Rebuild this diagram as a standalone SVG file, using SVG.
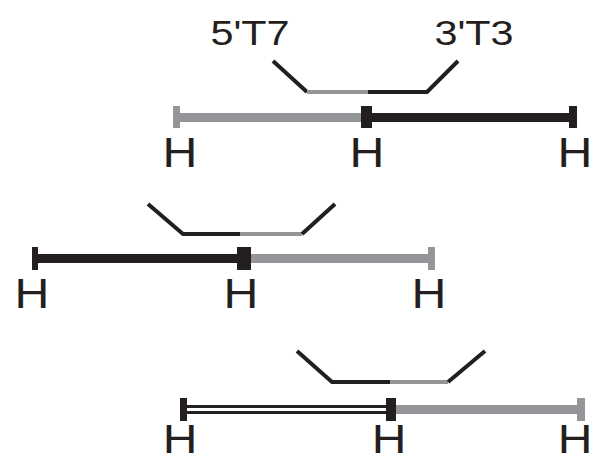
<svg xmlns="http://www.w3.org/2000/svg" width="596" height="462" viewBox="0 0 596 462">
  <style>
    .lbl { font-family: "Liberation Sans", Arial, sans-serif; fill: #231f20; text-anchor: middle; }
    .h { font-size: 42px; }
    .hb { font-size: 40px; }
    .p { font-size: 36px; }
    .bk { stroke: #231f20; fill: none; }
    .gr { stroke: #939598; fill: none; }
    .bar { stroke-width: 9; }
    .ad { stroke-width: 4; stroke-linecap: butt; stroke-linejoin: miter; }
    .tk { stroke: none; }
  </style>
  <rect width="596" height="462" fill="#ffffff"/>

  <g id="row1">
    <text class="lbl p" transform="translate(250,45) scale(1.15,1)">5'T7</text>
    <text class="lbl p" transform="translate(474,45) scale(1.15,1)">3'T3</text>
    <g id="row1-adapter">
      <polyline class="bk ad" points="273,61 307,92"/>
      <line class="gr ad" x1="307" y1="92" x2="368" y2="92"/>
      <polyline class="bk ad" points="368,92 427,92 458,61"/>
    </g>
    <g id="row1-fragments">
      <line class="gr bar" x1="178" y1="117.5" x2="364" y2="117.5"/>
      <line class="bk bar" x1="370" y1="117.5" x2="573" y2="117.5"/>
      <rect class="tk" x="173" y="106" width="7" height="22" fill="#939598"/>
      <rect class="tk" x="361" y="106" width="11" height="22" fill="#231f20"/>
      <rect class="tk" x="569" y="106" width="8" height="22" fill="#231f20"/>
    </g>
    <text class="lbl h" transform="translate(180,167) scale(1.15,1)">H</text>
    <text class="lbl h" transform="translate(367,167) scale(1.15,1)">H</text>
    <text class="lbl h" transform="translate(575,167) scale(1.15,1)">H</text>
  </g>

  <g id="row2">
    <g id="row2-adapter">
      <polyline class="bk ad" points="148,204 183,234 240,234"/>
      <polyline class="gr ad" points="240,234 302,234"/>
      <line class="bk ad" x1="302" y1="234" x2="335" y2="204"/>
    </g>
    <g id="row2-fragments">
      <line class="bk bar" x1="36" y1="258.5" x2="240" y2="258.5"/>
      <line class="gr bar" x1="248" y1="258.5" x2="430" y2="258.5"/>
      <rect class="tk" x="32" y="247" width="6" height="23" fill="#231f20"/>
      <rect class="tk" x="237" y="247" width="14" height="23" fill="#231f20"/>
      <rect class="tk" x="428" y="247" width="7" height="23" fill="#939598"/>
    </g>
    <text class="lbl h" transform="translate(32,308) scale(1.15,1)">H</text>
    <text class="lbl h" transform="translate(241,308) scale(1.15,1)">H</text>
    <text class="lbl h" transform="translate(429,308) scale(1.15,1)">H</text>
  </g>

  <g id="row3">
    <g id="row3-adapter">
      <polyline class="bk ad" points="297,351 332,382 390,382"/>
      <polyline class="gr ad" points="390,382 448,382"/>
      <line class="bk ad" x1="448" y1="382" x2="485" y2="351"/>
    </g>
    <g id="row3-fragments">
      <line class="bk bar" x1="185" y1="409.5" x2="388" y2="409.5"/>
      <line x1="186" y1="409.5" x2="387" y2="409.5" stroke="#ffffff" stroke-width="3"/>
      <line class="gr bar" x1="394" y1="409.5" x2="580" y2="409.5"/>
      <rect class="tk" x="180" y="398" width="7" height="23" fill="#231f20"/>
      <rect class="tk" x="386" y="398" width="10" height="23" fill="#231f20"/>
      <rect class="tk" x="577" y="398" width="8" height="23" fill="#939598"/>
    </g>
    <text class="lbl hb" transform="translate(180,453) scale(1.2,1)">H</text>
    <text class="lbl hb" transform="translate(389,453) scale(1.2,1)">H</text>
    <text class="lbl hb" transform="translate(575,453) scale(1.2,1)">H</text>
  </g>
</svg>
